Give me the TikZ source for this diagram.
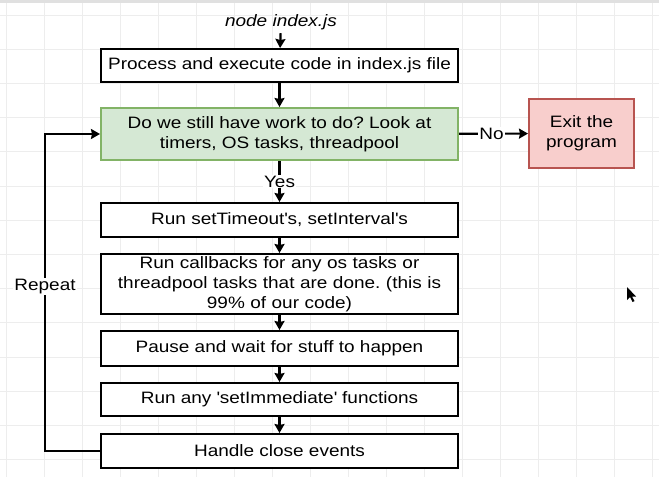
\documentclass[tikz,border=0pt]{standalone}
\usepackage{fontspec}
\setmainfont{Liberation Sans}[FakeStretch=1.15]
\usetikzlibrary{arrows.meta}
\definecolor{gridc}{HTML}{EDEDED}
\definecolor{greenfill}{HTML}{D5E8D4}
\definecolor{greenline}{HTML}{82B366}
\definecolor{redfill}{HTML}{F8CECC}
\definecolor{redline}{HTML}{B85450}
\tikzset{
  every node/.style={font=\fontsize{16.5}{19.8}\selectfont},
  stepbox/.style={draw=black, line width=2pt, fill=white, minimum width=357pt, inner sep=0pt, align=center},
  flow/.style={line width=2.2pt, -{Stealth[length=9pt,width=10pt,inset=1pt]}},
  lbl/.style={fill=white, inner sep=1pt}
}
\frenchspacing
\begin{document}
\begin{tikzpicture}[x=1pt,y=-1pt]
\useasboundingbox (0,0) rectangle (659,477);
\fill[white] (0,0) rectangle (659,477);
% grid
\foreach \i in {0,...,17} {\draw[gridc, line width=0.8pt] (6.7+38*\i,3) -- (6.7+38*\i,477);}
\foreach \j in {0,...,13} {\draw[gridc, line width=0.8pt] (0,15+34.2*\j) -- (659,15+34.2*\j);}
\fill[black!12] (0,0) rectangle (659,3);

\node[font=\fontsize{16.5}{19.8}\selectfont\itshape] (start) at (281,22) {node index.js};
\node[stepbox, minimum height=33pt] (p1) at (279.5,65.5) {Process and execute code in index.js file};
\node[stepbox, draw=greenline, fill=greenfill, minimum height=52pt] (q) at (279.5,134) {Do we still have work to do? Look at\\timers, OS tasks, threadpool};
\node[draw=redline, fill=redfill, line width=2pt, minimum width=105pt, minimum height=69pt, inner sep=0pt, align=center] (exit) at (581.5,133.5) {Exit the\\program};
\node[stepbox, minimum height=34pt] (s1) at (279.5,220) {Run setTimeout\textquotesingle s, setInterval\textquotesingle s};
\node[stepbox, minimum height=60pt, text width=350pt] (s2) at (279.5,284) {Run callbacks for any os tasks or\\threadpool tasks that are done. (this is\\99\% of our code)};
\node[stepbox, minimum height=35pt] (s3) at (279.5,348.5) {Pause and wait for stuff to happen};
\node[stepbox, minimum height=33pt] (s4) at (279.5,399.5) {Run any \textquotesingle setImmediate\textquotesingle\ functions};
\node[stepbox, minimum height=34pt] (s5) at (279.5,451) {Handle close events};

\draw[flow] (start) -- (p1);
\draw[flow] (p1) -- (q);
\draw[flow] (q) -- node[lbl] {Yes} (s1);
\draw[flow] (q) -- node[lbl, pos=0.47] {No} (exit);
\draw[flow] (s1) -- (s2);
\draw[flow] (s2) -- (s3);
\draw[flow] (s3) -- (s4);
\draw[flow] (s4) -- (s5);
\coordinate (c1) at (45,451);
\coordinate (c2) at (45,134);
\draw[flow] (s5.west) -- (c1) -- node[lbl, pos=0.52] {Repeat} (c2) -- (q.west);

% mouse cursor
\fill[black] (627,287) -- (627,300) -- (630,297) -- (632.5,302) -- (634.5,301) -- (632,296.5) -- (636,296.5) -- cycle;
\end{tikzpicture}
\end{document}
